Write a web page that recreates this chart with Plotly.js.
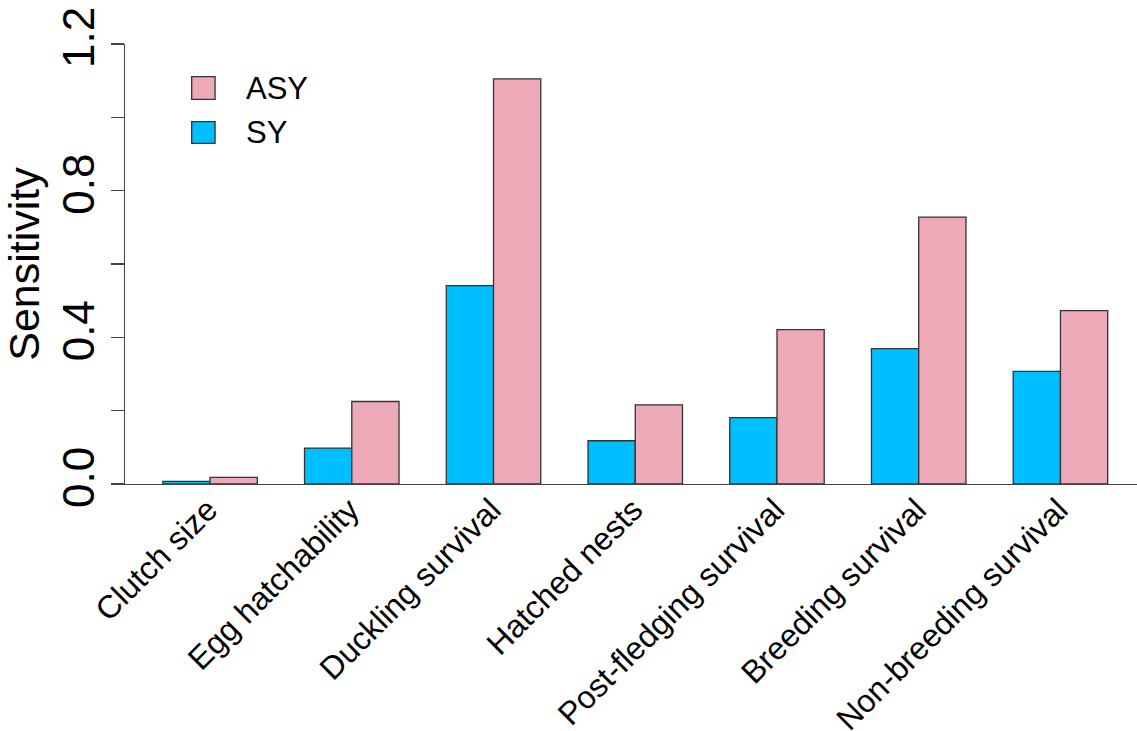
<!DOCTYPE html>
<html>
<head>
<meta charset="utf-8">
<script src="https://cdn.plot.ly/plotly-3.0.1.min.js"></script>
<style>html,body{margin:0;padding:0;background:#fff;}#chart{width:1137px;height:731px;}</style>
</head>
<body>
<div id="chart"></div>
<script>
const categories = ["Clutch size", "Egg hatchability", "Duckling survival", "Hatched nests",
  "Post-fledging survival", "Breeding survival", "Non-breeding survival"];
const syValues  = [0.007, 0.098, 0.541, 0.118, 0.181, 0.369, 0.307];
const asyValues = [0.018, 0.225, 1.105, 0.216, 0.421, 0.728, 0.473];
const yTickVals = [0, 0.2, 0.4, 0.6, 0.8, 1.0, 1.2];
const yTickText = ["0.0", "", "0.4", "", "0.8", "", "1.2"];
const seriesNames = ["SY", "ASY"];

const FONT = "Liberation Sans, Arial, sans-serif";
const SY_COLOR = "#00BFFF";
const ASY_COLOR = "#EEA9B8";
const EDGE = "#333333";

const traces = [
  {type: "bar", name: seriesNames[0], x: categories, y: syValues,
   marker: {color: SY_COLOR, line: {color: EDGE, width: 1.3}}, showlegend: false, hoverinfo: "x+y+name"},
  {type: "bar", name: seriesNames[1], x: categories, y: asyValues,
   marker: {color: ASY_COLOR, line: {color: EDGE, width: 1.3}}, showlegend: false, hoverinfo: "x+y+name"}
];

// manual legend (R-style squares)
const legendItems = [
  {label: seriesNames[1], color: ASY_COLOR, y0: 0.8743, y1: 0.9257, ty: 0.900},
  {label: seriesNames[0], color: SY_COLOR, y0: 0.7743, y1: 0.8234, ty: 0.799}
];
const shapes = legendItems.map(it => ({
  type: "rect", xref: "paper", yref: "paper", x0: 0.0659, x1: 0.0890, y0: it.y0, y1: it.y1,
  fillcolor: it.color, line: {color: EDGE, width: 1.3}
}));
const annotations = legendItems.map(it => ({
  xref: "paper", yref: "paper", x: 0.1176, y: it.ty, xanchor: "left", yanchor: "middle",
  text: it.label, showarrow: false, font: {family: FONT, size: 31, color: "#000"}
}));

const layout = {
  width: 1137, height: 731, autosize: false,
  paper_bgcolor: "#fff", plot_bgcolor: "#fff",
  margin: {l: 125, r: 0, t: 44, b: 247, pad: 0},
  barmode: "group", bargap: 1/3, bargroupgap: 0,
  font: {family: FONT, color: "#000"},
  xaxis: {
    type: "category", range: [-0.6, 6.54], showgrid: false, zeroline: false,
    showline: true, linecolor: "#444", linewidth: 1.3, ticks: "",
    tickangle: -45, tickfont: {family: FONT, size: 32, color: "#000"}, automargin: false,
    ticklabelstandoff: -7, ticklabelshift: -2
  },
  yaxis: {
    range: [0, 1.2], showgrid: false, zeroline: false,
    showline: true, linecolor: "#444", linewidth: 1.3,
    ticks: "outside", ticklen: 13, tickwidth: 1.3, tickcolor: "#444",
    tickvals: yTickVals, ticktext: yTickText, tickangle: -90,
    tickfont: {family: FONT, size: 44, color: "#000"},
    ticklabelstandoff: -1,
    title: {text: "Sensitivity", font: {family: FONT, size: 43, color: "#000"}, standoff: 4},
    automargin: false
  },
  shapes: shapes,
  annotations: annotations
};

Plotly.newPlot("chart", traces, layout, {displayModeBar: false, staticPlot: true});
</script>
</body>
</html>
